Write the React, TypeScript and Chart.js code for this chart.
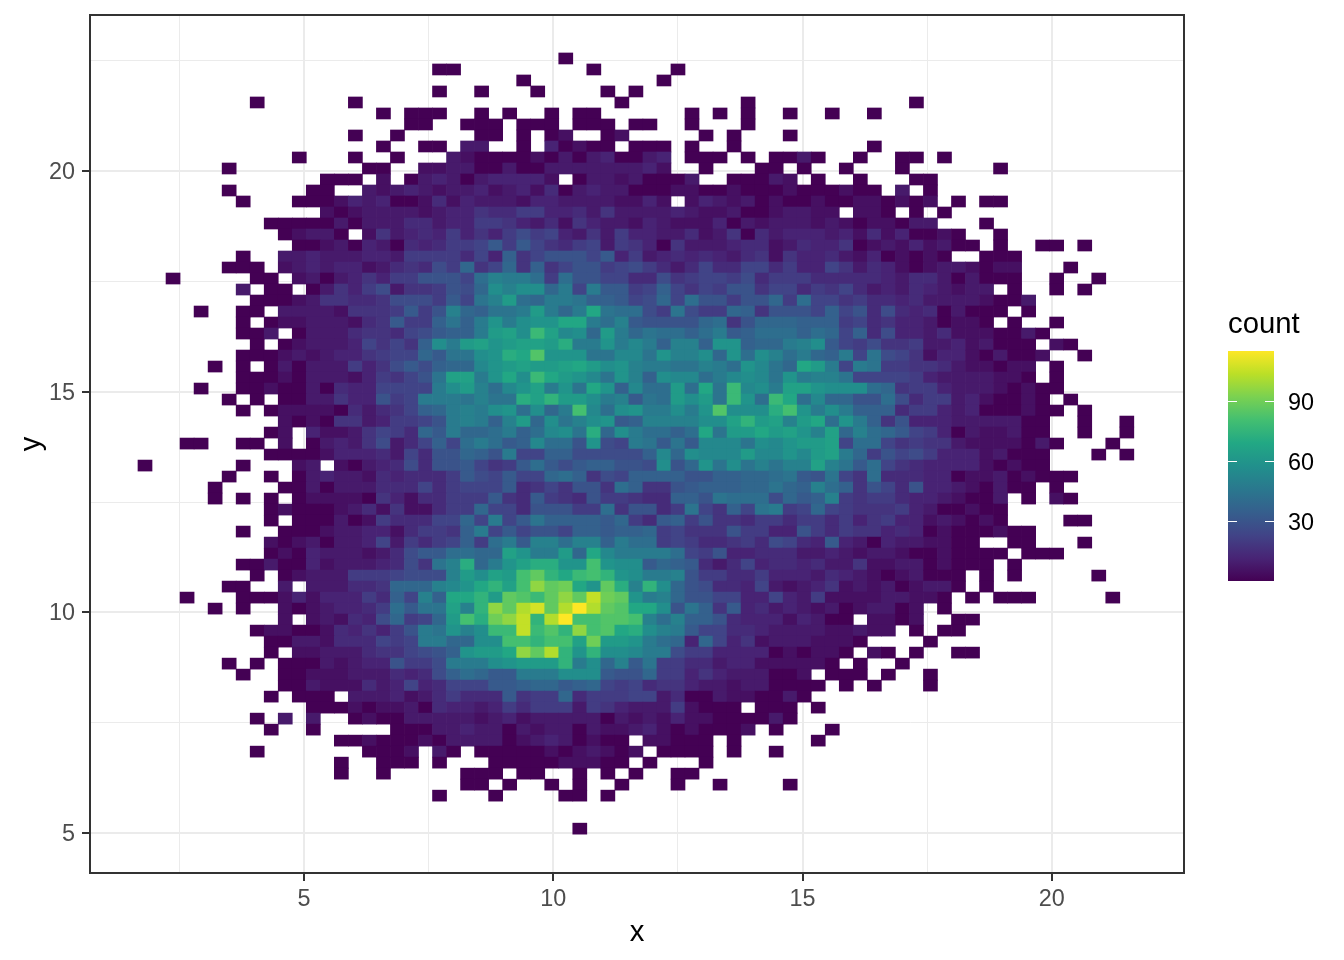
import React, { useEffect, useRef } from "react";
import { Chart, registerables } from "chart.js";

Chart.register(...registerables);

// Counts per bin. Each character is a bin count in steps of 3
// ('.' = empty, '1' = a single count, '2' = 6, '9' = 27, 'a' = 30, 'z' = 105, 'D' = 117).
const countAlphabet = ".123456789abcdefghijklmnopqrstuvwxyzABCD";

const westRows = [
"",".....................11","",".....................1","........1......1",".................1.111","...................11..1","...............1..1",
".................1..11.3","...........1...1..1...32","......1.........11..2233",".............111.2.13431","......1.....11..32343233",".......1...1112434112524",
".............21233332344",".........111113133355344","..........12331.26345474","...........1123143154577",".......1..33433344377775","......111.2343442356597d",
"..1.....11.231346477aaa8",".......3.11.1364793667a9","........11123665569997b8","....1..11.333326667b7ahd",".......1.122333256b77cfc",".......113.1333566589bcc",
"........1.1233348686cjgl",".......1112323446788dbff",".....1.1.1313337469b9cdd",".......1112133324768afmm","....1..11211315448888gjl","......1.1.1133644a78gggf",
".......1.12222153568cdgh","..........21216634778agh",".........12.42236875dbgd","...11..11.2.134369358c8e",".........111124445385aad","1......1...23.2134595aab",
"......1..1.134332545557b",".....1....11313335558578",".....1.1.1.1222216425577",".........121112352622577",".........1.111312755588d",".......1..1112334425776c",
".........21231334837578c",".........12143332359bbee",".......11311423334596fho","........1.123337778999hl","......11..3.333556dddhik","...1...11124244475c8hcnn",
".....1.1..21234457ebffmh","..........2.232549d78dlr","........12211254647agfkh",".........11332555878ggdd",".........1.2233356689ack","......1.1.11132344a779gg",
".......1..112223335459ce","..........11322253484588",".........1.111.333423575","............111212231544","........1.3.3..121133333",".........1..1.....111334",
"..............1121112133","........1.......1112.31","..............1..111.1","..............1..1.....1",".......................1",".....................1","","","",
];

const centreRows = [
"......1","........1.....1","...1.........1","1...1....1.1","..........1........1","1.1..1.11......1.1.1..1","11.111.111.11..1...1","11.1.12..12.....1.1...1",
"3..1.41211.111.1..1","11112131341134.111.1.113","11311333333342..1...11.1","344442.133231113..11132.","423425134331112211211121","33324433332242.243231211",
"655774453633334322311233","776435264332432224132333","647978436374433523615344","8b7b86578376416333455235","84c68aaa8b47345454356264","68d6c68aa789753585588574",
"ehgge7eaa885596788795777","djhjjdg8gbb78c8687aa6885","fhledggfccb89d8eaa7aad7e","cffglgdgnfee97f977dc6aaa","gkgjkknngehbaaaade6adddc","glmjqmijdlgdfeecegbceeec",
"mklmmloggkgigchhckkcddgh","jkonskkkffiifkhhjdkejheg","iklmllmnljkhggffhgekifdn","gknjqnlkifkhcjiiegijifkg","heikmgkfnkcieelenfqijgmm","hffomplljghbfeljlfqkeqne",
"gjkejdgriejkggjgksjjjork","gchldjfhjkbchhhhjjmplmhl","degceijfodjgeecenfllnlmk","gebcieeak98gfbfbiiifjikl","cag88cc99999cidjiiiliiki","867beb9bccaa9jadkfjfhfhh",
"98b88dec698ccccaaccddefb","88b5686aa6ec66abcccddfdc","7b65b765a77655ccafeee9db","d885aaa77e6aa57f86c8fg78","8g8bfccccbd75bc7a6657757","g8b8aa8ccbccd78666a7744a",
"7egbhhehhcgee78755675985","ddmkggldnigggge87a445553","dgkmookkrkjjbdcb53584554","jmlrtpnqrpkjggha77557444","npmrwtunktohpjda95548323","pltsqtwtzutkghdaa8844843",
"pwtyAtyDytsnnjafc6b45343","ouwzpyDrrssrhehcca544424","jqqzqspwrsnojhgb88554333","jjrrprrmullkged4d8462333","llnwtypkpjjigg9774444121","gjklllpgjdhbf77553442222",
"dbbgggjjjbaad77464333112","8bbcddbcd878566433233111","55b677d57778835113221131","3475777376433372111.111.","23423333313232422111131.","33132331322342121112.1",
"33123431211.22111.1","111112123212.1111.1..1",".1111122211.1...1","11.11..1.1.1..11","1.1..1.1..1...1..1....1",".1....11.1","","",".......1",
];

const eastRows = [
"","","","",".......1",".1..1","","","....1","1..1..11.1","..1...1......1","1..1...11","11211.3.1","211221212.1.11","22.221.1.1","232122133...1",
"43425241121..1","446123242311.1..11.1","4532412121..111","486354212332122...1","555554355313111..1..1","7685343543233.1..1.1","8867554533332113","8c8a5954513111.1",
"cc78564431221.1..1","ed8c5944352221131","jb87966733423111.21","dcg8f986244213112..1","lg8gf77665322122.1","hhf8888743333221.1","kjjjed677433321211","iddaae95773421121.1",
"gjgccc577434111211.1","nekgc6a4443333311..1..1","hmdhedb8741322311..1..1","lm8ee8676632222131...1","lmgd7a89744423111...1.1","mhfbe865444421211","af86e55544122312111","hec6a85a44321311.1",
"ch767754432113.1.21","d8766674311211","75746744232121....11","7576645412111211","4b4314332211..11...1","34323321121111.111","5336223312111.1","35432123111.1.1.....1",
"46232312331.1","7222233221.1.111.....1","23123312.1","311.2212..11","322322.1.11","2221....1","221.21.1..11","21.1..1",".111.1..1","1.1.1...1","","1","",".1","1","","","","","","","","",
];

const stripWidths = [24, 24, 23];
const xFirstCentre = 1.812;
const xBinWidth = 0.2813;
const yFirstCentre = 22.55;
const yBinHeight = 0.2493;

const xGridValues = [2.5, 5, 7.5, 10, 12.5, 15, 17.5, 20];
const yGridValues = [5, 7.5, 10, 12.5, 15, 17.5, 20, 22.5];
const legendTicks = [30, 60, 90];
const viridisStops = ["#440154","#482475","#414487","#355F8D","#2A788E","#21908C","#22A884","#43BF71","#7AD151","#BBDF27","#FDE725"];
const countMin = 1;
const countMax = 115;

const hexToRgb = (h: string) => [1, 3, 5].map((i) => parseInt(h.slice(i, i + 2), 16));
const colourFor = (count: number) => {
  const t = Math.min(1, Math.max(0, (count - countMin) / (countMax - countMin)));
  const p = t * (viridisStops.length - 1);
  const i = Math.min(viridisStops.length - 2, Math.floor(p));
  const a = hexToRgb(viridisStops[i]);
  const b = hexToRgb(viridisStops[i + 1]);
  const c = a.map((v, k) => Math.round(v + (b[k] - v) * (p - i)));
  return `rgb(${c[0]},${c[1]},${c[2]})`;
};

const decode = (ch: string) => {
  const idx = countAlphabet.indexOf(ch);
  return idx <= 0 ? 0 : idx === 1 ? 1 : idx * 3;
};

type Cell = { x: number; y: [number, number]; count: number };
const buildCells = () => {
  const cells: Cell[] = [];
  westRows.forEach((_, r) => {
    const row =
      westRows[r].padEnd(stripWidths[0], ".") +
      centreRows[r].padEnd(stripWidths[1], ".") +
      eastRows[r].padEnd(stripWidths[2], ".");
    for (let c = 0; c < row.length; c++) {
      const count = decode(row[c]);
      if (!count) continue;
      const yc = yFirstCentre - r * yBinHeight;
      cells.push({
        x: xFirstCentre + c * xBinWidth,
        y: [yc - yBinHeight / 2, yc + yBinHeight / 2],
        count,
      });
    }
  });
  return cells;
};

const FONT = "'Liberation Sans', Arial, sans-serif";

const framePlugin = {
  id: "frameAndLegend",
  afterDatasetsDraw(chart: any) {
    const { ctx, chartArea: a } = chart;
    ctx.save();
    ctx.strokeStyle = "#333333";
    ctx.lineWidth = 2;
    ctx.strokeRect(a.left, a.top, a.right - a.left, a.bottom - a.top);
    // colour bar
    const bx = 1228, bw = 46, top = 351, bottom = 581;
    const yOf = (v: number) => 581 - (v / 115) * (bottom - top);
    const g = ctx.createLinearGradient(0, bottom, 0, top);
    viridisStops.forEach((c, i) => g.addColorStop(i / (viridisStops.length - 1), c));
    ctx.fillStyle = g;
    ctx.fillRect(bx, top, bw, bottom - top);
    ctx.fillStyle = "#000000";
    ctx.font = `29.3px ${FONT}`;
    ctx.textAlign = "left";
    ctx.textBaseline = "alphabetic";
    ctx.fillText("count", bx, 333);
    ctx.font = `23.4px ${FONT}`;
    ctx.textBaseline = "middle";
    legendTicks.forEach((v) => {
      const y = Math.round(yOf(v));
      ctx.fillStyle = "#ffffff";
      ctx.fillRect(bx, y, 9, 1);
      ctx.fillRect(bx + bw - 9, y, 9, 1);
      ctx.fillStyle = "#000000";
      ctx.fillText(String(v), 1288, y + 3);
    });
    ctx.restore();
  },
};

const axis = (
  gridValues: number[],
  min: number,
  max: number,
  title: string,
  titlePadding: any,
  tickPadding: number,
  labelOffset: number,
  fit: (s: any) => void,
) => ({
  type: "linear" as const,
  min,
  max,
  offset: false,
  afterBuildTicks: (s: any) => {
    s.ticks = gridValues.map((value) => ({ value }));
  },
  afterFit: fit,
  border: { display: false },
  grid: {
    offset: false,
    color: "#EBEBEB",
    lineWidth: (c: any) => (c.tick && c.tick.value % 5 === 0 ? 2 : 1),
    tickColor: (c: any) => (c.tick && c.tick.value % 5 === 0 ? "#333333" : "rgba(0,0,0,0)"),
    tickWidth: 2,
    tickLength: 8,
    drawTicks: true,
  },
  ticks: {
    autoSkip: false,
    maxRotation: 0,
    minRotation: 0,
    color: "#4D4D4D",
    padding: tickPadding,
    labelOffset,
    font: { family: FONT, size: 23.4 },
    callback: (v: any) => (Number(v) % 5 === 0 ? String(v) : ""),
  },
  title: {
    display: true,
    text: title,
    color: "#000000",
    padding: titlePadding,
    font: { family: FONT, size: 29.3 },
  },
});

export default function App() {
  const ref = useRef<HTMLCanvasElement>(null);
  useEffect(() => {
    const cells = buildCells();
    const chart = new Chart(ref.current as HTMLCanvasElement, {
      type: "bar",
      data: {
        datasets: [
          {
            label: "count",
            data: cells as any,
            backgroundColor: cells.map((c) => colourFor(c.count)),
            borderWidth: 0,
            borderSkipped: false,
            barThickness: 14.03,
            grouped: false,
          } as any,
        ],
      },
      options: {
        responsive: false,
        animation: false,
        devicePixelRatio: 1,
        events: [],
        layout: { padding: { top: 15, right: 160, left: 0, bottom: 0 } },
        plugins: { legend: { display: false }, tooltip: { enabled: false } },
        scales: {
          x: axis(xGridValues, 0.709, 22.65, "x", { top: 0, bottom: 10 }, 5, 0, (s: any) => {
            s.height = 87;
            s.paddingLeft = 0;
            s.paddingRight = 0;
          }),
          y: axis(yGridValues, 4.094, 23.535, "y", { top: 14, bottom: 0 }, 7, 1.5, (s: any) => {
            s.width = 90;
            s.paddingTop = 0;
            s.paddingBottom = 0;
          }),
        },
      } as any,
      plugins: [framePlugin],
    });
    return () => chart.destroy();
  }, []);
  return (
    <div style={{ position: "fixed", left: 0, top: 0, width: 1344, height: 960, background: "#fff" }}>
      <canvas ref={ref} width={1344} height={960} style={{ display: "block" }} />
    </div>
  );
}
